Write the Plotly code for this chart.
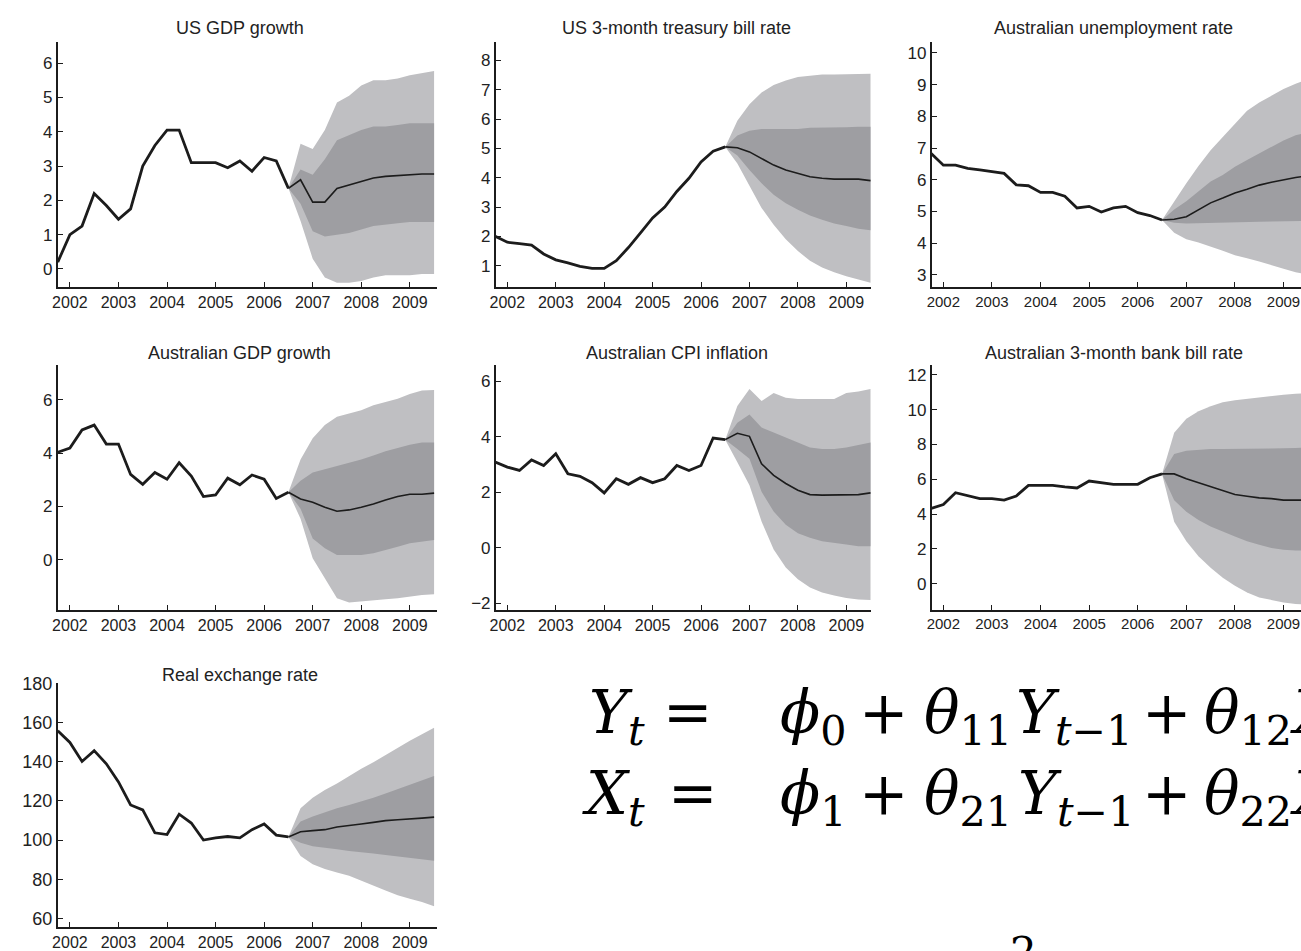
import plotly.graph_objects as go

W, H = 1301, 951

# ---------------- data ----------------
hist_x = [2001.75, 2002.0, 2002.25, 2002.5, 2002.75, 2003.0, 2003.25, 2003.5, 2003.75, 2004.0,
          2004.25, 2004.5, 2004.75, 2005.0, 2005.25, 2005.5, 2005.75, 2006.0, 2006.25, 2006.5]
fc_x = [2006.5, 2006.75, 2007.0, 2007.25, 2007.5, 2007.75, 2008.0, 2008.25, 2008.5, 2008.75,
        2009.0, 2009.25, 2009.5]

titles = ["US GDP growth", "US 3-month treasury bill rate", "Australian unemployment rate",
          "Australian GDP growth", "Australian CPI inflation", "Australian 3-month bank bill rate",
          "Real exchange rate"]

# US GDP growth
us_gdp_hist = [0.2, 1.0, 1.25, 2.2, 1.85, 1.45, 1.75, 3.0, 3.6, 4.05, 4.05, 3.1, 3.1, 3.1, 2.95, 3.15, 2.85, 3.25, 3.15, 2.35]
us_gdp_med = [2.35, 2.6, 1.95, 1.95, 2.35, 2.45, 2.55, 2.65, 2.7, 2.73, 2.76, 2.77, 2.77]
us_gdp_o_hi = [2.35, 3.65, 3.5, 4.05, 4.85, 5.05, 5.35, 5.5, 5.5, 5.55, 5.65, 5.7, 5.77]
us_gdp_i_hi = [2.35, 2.9, 2.75, 3.2, 3.75, 3.9, 4.05, 4.15, 4.15, 4.2, 4.25, 4.25, 4.25]
us_gdp_i_lo = [2.35, 1.9, 1.1, 0.95, 1.0, 1.05, 1.15, 1.25, 1.3, 1.33, 1.37, 1.37, 1.37]
us_gdp_o_lo = [2.35, 1.4, 0.3, -0.25, -0.4, -0.4, -0.35, -0.25, -0.18, -0.18, -0.18, -0.15, -0.15]

# US 3-month treasury bill rate
us_tb_hist = [2.0, 1.8, 1.75, 1.7, 1.4, 1.2, 1.1, 0.98, 0.91, 0.91, 1.17, 1.62, 2.12, 2.63, 3.0, 3.53, 3.98, 4.54, 4.9, 5.05]
us_tb_med = [5.05, 5.02, 4.88, 4.65, 4.43, 4.26, 4.15, 4.03, 3.98, 3.95, 3.95, 3.95, 3.9]
us_tb_o_hi = [5.05, 5.94, 6.5, 6.9, 7.16, 7.31, 7.43, 7.48, 7.52, 7.52, 7.52, 7.52, 7.54]
us_tb_i_hi = [5.05, 5.44, 5.6, 5.66, 5.66, 5.66, 5.66, 5.7, 5.7, 5.72, 5.72, 5.74, 5.74]
us_tb_i_lo = [5.05, 4.76, 4.26, 3.81, 3.42, 3.13, 2.91, 2.71, 2.57, 2.44, 2.35, 2.26, 2.21]
us_tb_o_lo = [5.05, 4.48, 3.7, 2.97, 2.4, 1.9, 1.5, 1.17, 0.94, 0.78, 0.64, 0.53, 0.42]

# Australian unemployment rate
au_ue_hist = [6.83, 6.46, 6.46, 6.36, 6.31, 6.26, 6.2, 5.84, 5.81, 5.6, 5.6, 5.48, 5.11, 5.16, 4.98, 5.11, 5.16, 4.96, 4.87, 4.73]
au_ue_med = [4.73, 4.75, 4.83, 5.04, 5.27, 5.42, 5.58, 5.7, 5.83, 5.92, 6.0, 6.07, 6.12]
au_ue_o_hi = [4.73, 5.32, 5.89, 6.43, 6.93, 7.35, 7.76, 8.18, 8.44, 8.65, 8.86, 9.03, 9.17]
au_ue_i_hi = [4.73, 5.06, 5.32, 5.63, 5.94, 6.15, 6.41, 6.62, 6.83, 7.04, 7.24, 7.4, 7.5]
au_ue_i_lo = [4.73, 4.64, 4.62, 4.64, 4.64, 4.65, 4.66, 4.66, 4.67, 4.68, 4.69, 4.7, 4.7]
au_ue_o_lo = [4.73, 4.33, 4.12, 4.02, 3.9, 3.76, 3.62, 3.52, 3.42, 3.31, 3.19, 3.08, 3.0]

# Australian GDP growth
au_gdp_hist = [4.03, 4.19, 4.87, 5.05, 4.34, 4.34, 3.2, 2.83, 3.27, 3.02, 3.64, 3.14, 2.37, 2.43, 3.06, 2.81, 3.18, 3.02, 2.3, 2.53]
au_gdp_med = [2.53, 2.28, 2.16, 1.97, 1.82, 1.87, 1.97, 2.09, 2.24, 2.37, 2.46, 2.46, 2.5]
au_gdp_o_hi = [2.53, 3.76, 4.56, 5.05, 5.36, 5.48, 5.61, 5.79, 5.91, 6.04, 6.22, 6.35, 6.37]
au_gdp_i_hi = [2.53, 2.96, 3.27, 3.39, 3.51, 3.64, 3.76, 3.91, 4.07, 4.19, 4.31, 4.4, 4.4]
au_gdp_i_lo = [2.53, 1.91, 0.8, 0.43, 0.18, 0.18, 0.18, 0.25, 0.37, 0.49, 0.62, 0.68, 0.74]
au_gdp_o_lo = [2.53, 1.54, 0.06, -0.68, -1.44, -1.6, -1.54, -1.52, -1.48, -1.44, -1.39, -1.32, -1.29]

# Australian CPI inflation
au_cpi_hist = [3.09, 2.91, 2.79, 3.17, 2.97, 3.39, 2.67, 2.58, 2.35, 1.98, 2.49, 2.29, 2.53, 2.35, 2.49, 2.97, 2.79, 2.97, 3.96, 3.9]
au_cpi_med = [3.9, 4.13, 4.02, 3.03, 2.61, 2.32, 2.08, 1.92, 1.9, 1.9, 1.9, 1.92, 1.98]
au_cpi_o_hi = [3.9, 5.11, 5.73, 5.29, 5.58, 5.41, 5.37, 5.37, 5.37, 5.37, 5.58, 5.64, 5.73]
au_cpi_i_hi = [3.9, 4.51, 4.81, 4.34, 4.16, 3.98, 3.8, 3.62, 3.56, 3.56, 3.62, 3.71, 3.8]
au_cpi_i_lo = [3.9, 3.56, 3.21, 2.02, 1.31, 0.83, 0.53, 0.36, 0.24, 0.18, 0.12, 0.06, 0.06]
au_cpi_o_lo = [3.9, 3.09, 2.26, 0.95, -0.06, -0.71, -1.13, -1.43, -1.61, -1.72, -1.81, -1.86, -1.88]

# Australian 3-month bank bill rate
au_bb_hist = [4.32, 4.55, 5.23, 5.08, 4.89, 4.89, 4.8, 5.04, 5.65, 5.65, 5.65, 5.56, 5.5, 5.9, 5.8, 5.71, 5.71, 5.71, 6.09, 6.31]
au_bb_med = [6.31, 6.31, 6.03, 5.8, 5.56, 5.33, 5.12, 5.02, 4.93, 4.89, 4.8, 4.8, 4.8]
au_bb_o_hi = [6.31, 8.68, 9.48, 9.92, 10.2, 10.43, 10.54, 10.62, 10.73, 10.81, 10.86, 10.92, 10.96]
au_bb_i_hi = [6.31, 7.45, 7.64, 7.7, 7.74, 7.74, 7.74, 7.74, 7.75, 7.76, 7.78, 7.8, 7.83]
au_bb_i_lo = [6.31, 4.8, 4.13, 3.66, 3.28, 3.0, 2.71, 2.43, 2.24, 2.05, 1.95, 1.9, 1.9]
au_bb_o_lo = [6.31, 3.56, 2.43, 1.57, 0.91, 0.34, -0.13, -0.51, -0.8, -0.95, -1.08, -1.18, -1.2]

# Real exchange rate
rer_hist = [155.7, 149.8, 140.1, 145.6, 138.9, 129.7, 117.9, 115.4, 103.7, 102.8, 113.2, 108.7, 100.0, 101.1, 101.8, 101.1, 105.3, 108.2, 102.5, 101.6]
rer_med = [101.6, 104.2, 104.8, 105.3, 106.7, 107.3, 108.2, 109.0, 109.9, 110.4, 110.7, 111.2, 111.7]
rer_o_hi = [101.6, 116.2, 121.6, 125.5, 128.8, 132.7, 136.4, 139.7, 143.4, 147.3, 150.6, 154.0, 157.3]
rer_i_hi = [101.6, 109.5, 112.0, 114.2, 116.2, 117.9, 119.6, 121.6, 123.8, 126.0, 128.0, 130.5, 132.7]
rer_i_lo = [101.6, 98.6, 96.9, 96.1, 95.3, 94.4, 93.6, 93.1, 92.4, 91.7, 91.1, 90.2, 89.4]
rer_o_lo = [101.6, 91.9, 87.7, 85.2, 83.5, 81.8, 79.3, 76.8, 74.3, 71.8, 70.1, 68.4, 66.2]

ytick_sets = [
    [0, 1, 2, 3, 4, 5, 6],
    [1, 2, 3, 4, 5, 6, 7, 8],
    [3, 4, 5, 6, 7, 8, 9, 10],
    [0, 2, 4, 6],
    [-2, 0, 2, 4, 6],
    [0, 2, 4, 6, 8, 10, 12],
    [60, 80, 100, 120, 140, 160, 180],
]
xtick_vals = [2002, 2003, 2004, 2005, 2006, 2007, 2008, 2009]

series = [
    (us_gdp_hist, us_gdp_med, us_gdp_o_hi, us_gdp_i_hi, us_gdp_i_lo, us_gdp_o_lo),
    (us_tb_hist, us_tb_med, us_tb_o_hi, us_tb_i_hi, us_tb_i_lo, us_tb_o_lo),
    (au_ue_hist, au_ue_med, au_ue_o_hi, au_ue_i_hi, au_ue_i_lo, au_ue_o_lo),
    (au_gdp_hist, au_gdp_med, au_gdp_o_hi, au_gdp_i_hi, au_gdp_i_lo, au_gdp_o_lo),
    (au_cpi_hist, au_cpi_med, au_cpi_o_hi, au_cpi_i_hi, au_cpi_i_lo, au_cpi_o_lo),
    (au_bb_hist, au_bb_med, au_bb_o_hi, au_bb_i_hi, au_bb_i_lo, au_bb_o_lo),
    (rer_hist, rer_med, rer_o_hi, rer_i_hi, rer_i_lo, rer_o_lo),
]

# ---------------- layout (pixel boxes) ----------------
# (left, top, right, bottom) in pixels
boxes = [
    (52, 33, 433, 282),
    (492, 33, 869, 282),
    (930, 33, 1301, 282),
    (52, 361, 433, 609),
    (492, 361, 869, 609),
    (930, 361, 1301, 609),
    (52, 683, 433, 931),
]
xranges = [[2001.75, 2009.56], [2001.76, 2009.51], [2001.76, 2009.36],
           [2001.75, 2009.56], [2001.76, 2009.51], [2001.76, 2009.36],
           [2001.75, 2009.56]]
yranges = [[-0.53, 6.63], [0.27, 8.64], [2.61, 10.36], [-1.87, 7.3], [-2.23, 6.59],
           [-1.5, 12.57], [55.5, 180.3]]
xtick_sizes = [16, 16, 15, 16, 16, 15, 16]
title_pos = [(235, 19), (674, 19), (1113, 19), (235, 349), (674, 349), (1113, 349), (235, 675)]

LIGHT = "rgb(191,191,194)"
DARK = "rgb(158,158,162)"
INK = "#1c1c1c"
FONT = "Liberation Sans, Arial, Helvetica, sans-serif"

fig = go.Figure()
layout = dict(
    width=W, height=H,
    margin=dict(l=0, r=0, t=0, b=0),
    paper_bgcolor="white", plot_bgcolor="white",
    showlegend=False,
    annotations=[],
)

for i, (s, box) in enumerate(zip(series, boxes)):
    n = i + 1
    xa = "x" if n == 1 else f"x{n}"
    ya = "y" if n == 1 else f"y{n}"
    hist, med, o_hi, i_hi, i_lo, o_lo = s
    fig.add_trace(go.Scatter(x=fc_x + fc_x[::-1], y=o_hi + o_lo[::-1], fill="toself",
                             fillcolor=LIGHT, line=dict(width=0), mode="lines",
                             xaxis=xa, yaxis=ya, hoverinfo="skip"))
    fig.add_trace(go.Scatter(x=fc_x + fc_x[::-1], y=i_hi + i_lo[::-1], fill="toself",
                             fillcolor=DARK, line=dict(width=0), mode="lines",
                             xaxis=xa, yaxis=ya, hoverinfo="skip"))
    fig.add_trace(go.Scatter(x=fc_x, y=med, mode="lines", line=dict(color=INK, width=1.6),
                             xaxis=xa, yaxis=ya))
    fig.add_trace(go.Scatter(x=hist_x, y=hist, mode="lines", line=dict(color=INK, width=2.8),
                             xaxis=xa, yaxis=ya))

    l, t, r, b = box
    axkey = "xaxis" if n == 1 else f"xaxis{n}"
    aykey = "yaxis" if n == 1 else f"yaxis{n}"
    layout[axkey] = dict(
        domain=[l / W, r / W], anchor=ya, range=xranges[i],
        tickvals=xtick_vals, ticks="inside", ticklen=5, tickwidth=1.2, tickcolor=INK,
        showline=True, linecolor=INK, linewidth=1.6, showgrid=False, zeroline=False,
        tickfont=dict(family=FONT, size=xtick_sizes[i], color="#222"),
    )
    layout[aykey] = dict(
        domain=[1 - b / H, 1 - t / H], anchor=xa, range=yranges[i],
        tickvals=ytick_sets[i], ticks="inside", ticklen=5, tickwidth=1.2, tickcolor=INK,
        showline=True, linecolor=INK, linewidth=1.6, showgrid=False, zeroline=False,
        tickfont=dict(family=FONT, size=17 if n != 7 else 18, color="#222"),
    )
    tx, ty = title_pos[i]
    layout["annotations"].append(dict(
        text=titles[i], x=tx / W, y=1 - ty / H, xref="paper", yref="paper",
        xanchor="center", yanchor="middle", showarrow=False,
        font=dict(family=FONT, size=18, color="#222"),
    ))

# ---------------- equations (one token per annotation) ----------------
EQF = "DejaVu Serif, Liberation Serif, serif"
EQS = 59
line1 = [("<i>Y</i><sub><i>t</i></sub>", 584), ("=", 658), ("<i>ϕ</i><sub>0</sub>", 776),
         ("+", 855), ("<i>θ</i><sub>11</sub>", 920), ("<i>Y</i><sub><i>t</i>−1</sub>", 1013),
         ("+", 1139), ("<i>θ</i><sub>12</sub>", 1202), ("<i>X</i><sub><i>t</i>−1</sub>", 1288)]
line2 = [("<i>X</i><sub><i>t</i></sub>", 577), ("=", 663), ("<i>ϕ</i><sub>1</sub>", 776),
         ("+", 855), ("<i>θ</i><sub>21</sub>", 920), ("<i>Y</i><sub><i>t</i>−1</sub>", 1015),
         ("+", 1139), ("<i>θ</i><sub>22</sub>", 1202), ("<i>X</i><sub><i>t</i>−1</sub>", 1288)]
for toks, top in ((line1, 676), (line2, 758)):
    for txt, px in toks:
        layout["annotations"].append(dict(
            text=txt, x=px / W, y=1 - top / H, xref="paper", yref="paper",
            xanchor="left", yanchor="top", showarrow=False,
            font=dict(family=EQF, size=EQS, color="black"),
        ))
layout["annotations"].append(dict(
    text="2", x=1007 / W, y=1 - 930 / H, xref="paper", yref="paper",
    xanchor="left", yanchor="top", showarrow=False,
    font=dict(family=EQF, size=42, color="black"),
))

fig.update_layout(**layout)
fig.write_html("out.html")
